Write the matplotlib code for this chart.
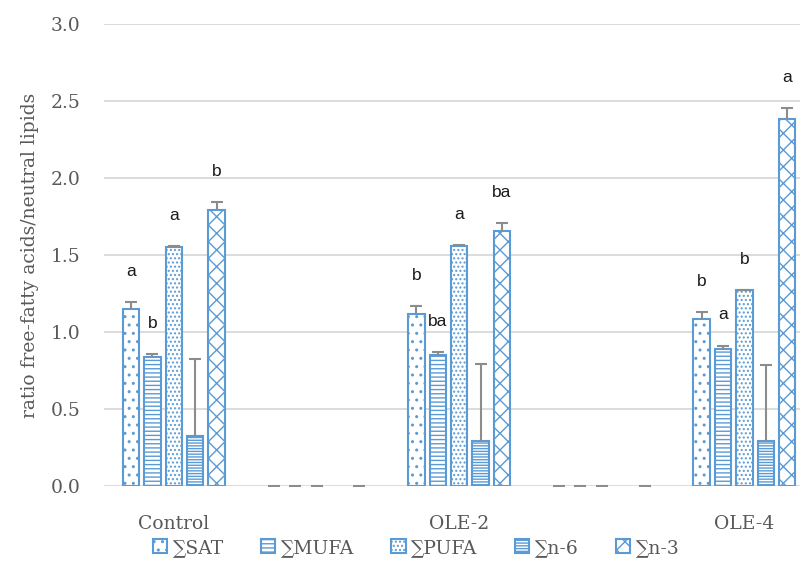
import numpy as np
import matplotlib
matplotlib.use('Agg')
import matplotlib.pyplot as plt

# groups (blank slots kept as in the original sheet)
categories = ['Control', '', 'OLE-2', '', 'OLE-4']
series = ['\u2211SAT', '\u2211MUFA', '\u2211PUFA', '\u2211n-6', '\u2211n-3']

sat = [1.15, 0, 1.12, 0, 1.085]
mufa = [0.84, 0, 0.85, 0, 0.89]
pufa = [1.555, 0, 1.56, 0, 1.27]
n6 = [0.325, np.nan, 0.29, np.nan, 0.29]
n3 = [1.79, 0, 1.655, 0, 2.38]

sat_err = [0.045, 0, 0.047, 0, 0.045]
mufa_err = [0.018, 0, 0.02, 0, 0.022]
pufa_err = [0.004, 0, 0.004, 0, 0.004]
n6_err = [0.50, np.nan, 0.50, np.nan, 0.495]
n3_err = [0.055, 0, 0.053, 0, 0.077]

letters = [
    ['a', '', 'b', '', 'b'],
    ['b', '', 'ba', '', 'a'],
    ['a', '', 'a', '', 'b'],
    ['', '', '', '', ''],
    ['b', '', 'ba', '', 'a'],
]

values = [sat, mufa, pufa, n6, n3]
errors = [sat_err, mufa_err, pufa_err, n6_err, n3_err]
hatches = ['..', '----', '....', '------', 'xx']

blue = '#5b9bd5'
grey_txt = '#595959'
serif = ['DejaVu Serif', 'DejaVu Sans']
fs = 13.5

plt.rcParams['hatch.linewidth'] = 1.0

fig = plt.figure(figsize=(8, 5.68), dpi=100)
ax = fig.add_axes([0.13, 0.1444, 0.87, 0.8133])

x = np.arange(len(categories))
width = 0.115
step = 0.15

for i, (name, vals, err) in enumerate(zip(series, values, errors)):
    vals = np.array(vals, dtype=float)
    err = np.array(err, dtype=float)
    pos = x + (i - 2) * step
    bars = ax.bar(pos, vals, width, facecolor='white', edgecolor=blue,
                  hatch=hatches[i], linewidth=1.5, label=name, zorder=2)
    for b, v in zip(bars, vals):
        if not v > 0:
            b.set_visible(False)
    eb = ax.errorbar(pos, vals, yerr=[np.zeros_like(err), err], fmt='none',
                     ecolor='#8c8c8c', elinewidth=1.5, capsize=4.5,
                     capthick=1.5, zorder=3)
    eb[1][0].set_visible(False)
    for p, v, e, t in zip(pos, vals, err, letters[i]):
        if t:
            ax.annotate(t, (p, v + e), xytext=(0, 22), textcoords='offset points',
                        ha='center', va='center', fontsize=12.5,
                        family=['Liberation Sans', 'DejaVu Sans'], color='#1a1a1a')

ax.set_xlim(-0.49, 4.39)
ax.set_ylim(0, 3.0)
ax.set_yticks(np.arange(0, 3.01, 0.5))
ax.set_yticklabels(['%.1f' % v for v in np.arange(0, 3.01, 0.5)])
ax.set_xticks(x)
ax.set_xticklabels(categories)

for s in ax.spines.values():
    s.set_visible(False)
ax.yaxis.grid(True, color='#d9d9d9', linewidth=1.3, zorder=0)
ax.set_axisbelow(True)
ax.tick_params(axis='y', length=0, pad=17, labelsize=fs, labelcolor=grey_txt)
ax.tick_params(axis='x', length=0, pad=21, labelsize=fs, labelcolor=grey_txt)
for lab in ax.get_xticklabels() + ax.get_yticklabels():
    lab.set_family(serif)

ax.set_ylabel('ratio free-fatty acids/neutral lipids', fontsize=fs,
              color=grey_txt, family=serif, labelpad=8)

fig.legend(loc='lower center', bbox_to_anchor=(0.52, -0.01), ncol=5,
           frameon=False, handlelength=0.75, handleheight=0.75,
           handletextpad=0.3, columnspacing=2.0,
           prop={'family': serif, 'size': fs}, labelcolor=grey_txt)

fig.savefig('out.png', dpi=100)
